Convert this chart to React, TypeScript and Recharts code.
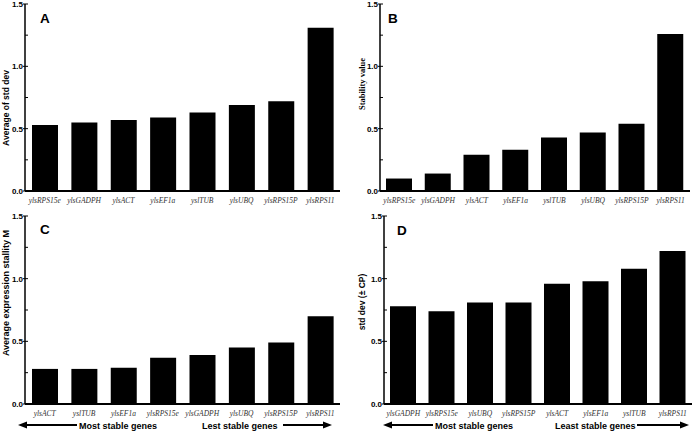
import React from 'react'
import { BarChart, Bar, XAxis, YAxis } from 'recharts'

// panel data
const genesA = ['ylsRPS15e', 'ylsGADPH', 'ylsACT', 'ylsEF1a', 'yslTUB', 'ylsUBQ', 'ylsRPS15P', 'ylsRPS11']
const valuesA = [0.53, 0.55, 0.57, 0.59, 0.63, 0.69, 0.72, 1.31]

const genesB = ['ylsRPS15e', 'ylsGADPH', 'ylsACT', 'ylsEF1a', 'yslTUB', 'ylsUBQ', 'ylsRPS15P', 'ylsRPS11']
const valuesB = [0.1, 0.14, 0.29, 0.33, 0.43, 0.47, 0.54, 1.26]

const genesC = ['ylsACT', 'yslTUB', 'ylsEF1a', 'ylsRPS15e', 'ylsGADPH', 'ylsUBQ', 'ylsRPS15P', 'ylsRPS11']
const valuesC = [0.28, 0.28, 0.29, 0.37, 0.39, 0.45, 0.49, 0.7]

const genesD = ['ylsGADPH', 'ylsRPS15e', 'ylsUBQ', 'ylsRPS15P', 'ylsACT', 'ylsEF1a', 'yslTUB', 'ylsRPS11']
const valuesD = [0.78, 0.74, 0.81, 0.81, 0.96, 0.98, 1.08, 1.22]

const yTicks = [0, 0.25, 0.5, 0.75, 1, 1.25, 1.5]

const sans = 'Liberation Sans, Arial, sans-serif'
const serif = 'Liberation Serif, Times New Roman, serif'

function YTick(props: any) {
  const { x, y, payload } = props
  const v = payload.value
  const major = Math.abs(v * 2 - Math.round(v * 2)) < 1e-6
  return (
    <g>
      <line x1={major ? x - 2 : x} x2={x + 3} y1={y} y2={y} stroke="#000" strokeWidth={1} />
      {major && (
        <text x={x - 2} y={y} dy={3} textAnchor="end" fontSize={8} fontWeight="bold" fontFamily={sans} fill="#000">
          {v.toFixed(1)}
        </text>
      )}
    </g>
  )
}

function XTick(props: any) {
  const { x, y, payload } = props
  return (
    <text x={x} y={y} dy={8} textAnchor="middle" fontSize={7.5} fontStyle="italic" fontFamily={serif} fill="#333">
      {payload.value}
    </text>
  )
}

interface PanelProps {
  genes: string[]
  values: number[]
  left: number
  top: number
  width: number
  height: number
  yAxisWidth: number
  marginTop: number
  marginRight: number
  xAxisHeight: number
}

function Panel({ genes, values, left, top, width, height, yAxisWidth, marginTop, marginRight, xAxisHeight }: PanelProps) {
  const data = genes.map((g, i) => ({ gene: g, value: values[i] }))
  return (
    <div style={{ position: 'absolute', left, top }}>
      <BarChart
        width={width}
        height={height}
        data={data}
        margin={{ top: marginTop, right: marginRight, bottom: 0, left: 0 }}
      >
        <XAxis
          dataKey="gene"
          interval={0}
          height={xAxisHeight}
          tick={<XTick />}
          tickLine={false}
          tickSize={0}
          tickMargin={4}
          axisLine={{ stroke: '#000', strokeWidth: 2 }}
        />
        <YAxis
          domain={[0, 1.5]}
          ticks={yTicks}
          interval={0}
          width={yAxisWidth}
          tick={<YTick />}
          tickLine={false}
          tickSize={0}
          tickMargin={0}
          axisLine={{ stroke: '#000', strokeWidth: 1.5 }}
        />
        <Bar dataKey="value" fill="#000" barSize={26} isAnimationActive={false} />
      </BarChart>
    </div>
  )
}

function ArrowLeft({ x1, x2, y }: { x1: number; x2: number; y: number }) {
  return (
    <g>
      <line x1={x1 + 7} x2={x2} y1={y} y2={y} stroke="#000" strokeWidth={2} />
      <polygon points={`${x1},${y} ${x1 + 9},${y - 3.5} ${x1 + 9},${y + 3.5}`} fill="#000" />
    </g>
  )
}

function ArrowRight({ x1, x2, y }: { x1: number; x2: number; y: number }) {
  return (
    <g>
      <line x1={x1} x2={x2 - 7} y1={y} y2={y} stroke="#000" strokeWidth={2} />
      <polygon points={`${x2},${y} ${x2 - 9},${y - 3.5} ${x2 - 9},${y + 3.5}`} fill="#000" />
    </g>
  )
}

export default function App() {
  return (
    <div style={{ position: 'absolute', left: 0, top: 0, width: 697, height: 431, background: '#fff', overflow: 'hidden' }}>
      <Panel genes={genesA} values={valuesA} left={0} top={0} width={347} height={215}
        yAxisWidth={25} marginTop={4} marginRight={7} xAxisHeight={24} />
      <Panel genes={genesB} values={valuesB} left={347} top={0} width={350} height={215}
        yAxisWidth={33} marginTop={4} marginRight={7} xAxisHeight={24} />
      <Panel genes={genesC} values={valuesC} left={0} top={211} width={347} height={220}
        yAxisWidth={25} marginTop={5} marginRight={7} xAxisHeight={27} />
      <Panel genes={genesD} values={valuesD} left={347} top={211} width={350} height={220}
        yAxisWidth={37} marginTop={5} marginRight={5} xAxisHeight={27} />

      <svg width={697} height={431} style={{ position: 'absolute', left: 0, top: 0, pointerEvents: 'none' }}>
        {/* panel letters */}
        <text x={40} y={23} fontSize={13.5} fontWeight="bold" fontFamily={sans}>A</text>
        <text x={388} y={23} fontSize={13.5} fontWeight="bold" fontFamily={sans}>B</text>
        <text x={40} y={234} fontSize={13.5} fontWeight="bold" fontFamily={sans}>C</text>
        <text x={397} y={235} fontSize={13.5} fontWeight="bold" fontFamily={sans}>D</text>

        {/* y-axis titles */}
        <text x={9} y={108} transform="rotate(-90 9 108)" textAnchor="middle" fontSize={8.5} fontWeight="bold" fontFamily={sans}>
          Average of std dev
        </text>
        <text x={365} y={84} transform="rotate(-90 365 84)" textAnchor="middle" fontSize={8.5} fontWeight="bold" fontFamily={serif}>
          Stability value
        </text>
        <text x={9} y={293} transform="rotate(-90 9 293)" textAnchor="middle" fontSize={9} fontWeight="bold" fontFamily={sans}>
          Average expression stallity M
        </text>
        <text x={365} y={302} transform="rotate(-90 365 302)" textAnchor="middle" fontSize={8.5} fontWeight="bold" fontFamily={sans}>
          std dev (± CP)
        </text>

        {/* stability arrows */}
        <ArrowLeft x1={18} x2={77} y={425} />
        <text x={79} y={428.5} fontSize={9} fontWeight="bold" fontFamily={sans}>Most stable genes</text>
        <text x={202} y={428.5} fontSize={9} fontWeight="bold" fontFamily={sans}>Lest stable genes</text>
        <ArrowRight x1={283} x2={332} y={425} />

        <ArrowLeft x1={383} x2={433} y={425} />
        <text x={435} y={428.5} fontSize={9} fontWeight="bold" fontFamily={sans}>Most stable genes</text>
        <text x={555} y={428.5} fontSize={9} fontWeight="bold" fontFamily={sans}>Least stable genes</text>
        <ArrowRight x1={637} x2={689} y={425} />
      </svg>
    </div>
  )
}
